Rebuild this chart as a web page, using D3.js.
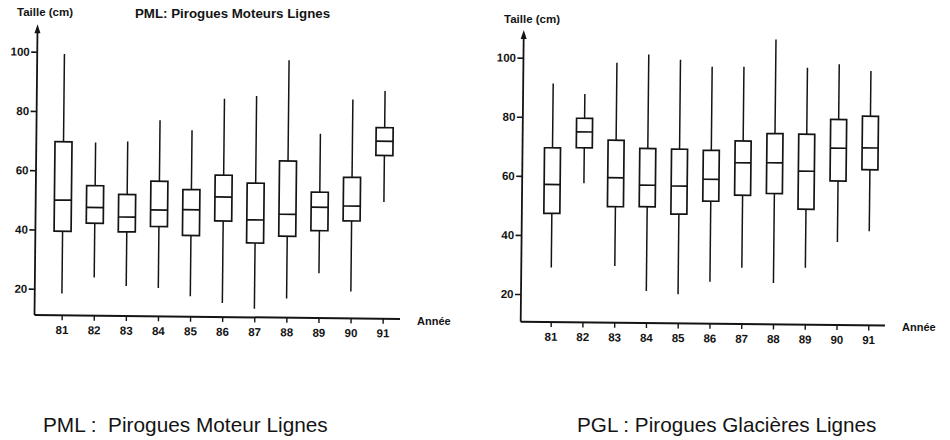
<!DOCTYPE html>
<html>
<head>
<meta charset="utf-8">
<script src="https://cdn.jsdelivr.net/npm/d3@7/dist/d3.min.js"></script>
<style>
  body { margin: 0; background: #fff; }
  svg { display: block; font-family: "Liberation Sans", Arial, Helvetica, sans-serif; }
</style>
</head>
<body>
<svg id="chart" width="950" height="440"></svg>
<script>
// Years on the x axis (19xx)
const years = [81, 82, 83, 84, 85, 86, 87, 88, 89, 90, 91];
const yTicks = [20, 40, 60, 80, 100];

// PML : Pirogues Moteur Lignes (taille en cm)
const pmlMin = [18.5, 24.0, 21.2, 20.7, 18.0, 15.8, 14.0, 17.6, 26.2, 20.2, 50.5];
const pmlQ1  = [39.5, 42.3, 39.5, 41.4, 38.5, 43.5, 36.2, 38.6, 40.6, 44.0, 66.2];
const pmlMed = [50.0, 47.6, 44.5, 47.0, 47.2, 51.6, 44.0, 46.0, 48.5, 49.0, 71.0];
const pmlQ3  = [69.7, 55.0, 52.1, 56.7, 54.0, 59.0, 56.4, 64.0, 53.6, 58.7, 75.6];
const pmlMax = [99.3, 69.6, 70.0, 77.3, 74.0, 84.8, 85.8, 98.0, 73.3, 85.0, 88.0];

// PGL : Pirogues Glacieres Lignes (taille en cm)
const pglMin = [29.1, 57.7, 29.8, 21.5, 20.5, 24.8, 29.7, 24.6, 29.9, 38.7, 42.5];
const pglQ1  = [47.4, 69.7, 49.9, 50.0, 47.6, 52.1, 54.2, 54.9, 49.7, 59.4, 63.3];
const pglMed = [57.2, 75.1, 59.7, 57.3, 57.1, 59.5, 65.2, 65.3, 62.6, 70.5, 70.7];
const pglQ3  = [69.6, 79.7, 72.4, 69.7, 69.6, 69.3, 72.6, 75.2, 75.1, 80.2, 81.4];
const pglMax = [91.4, 87.9, 98.6, 101.5, 99.9, 97.6, 97.7, 107.1, 97.6, 98.9, 96.7];

const ink = "#141414";
const svg = d3.select("#chart");

function toRows(mn, q1, md, q3, mx) {
  return years.map((yr, i) => ({ yr, min: mn[i], q1: q1[i], med: md[i], q3: q3[i], max: mx[i] }));
}

function drawPanel(p) {
  const x = d3.scaleLinear().domain([81, 91]).range(p.xRange);
  const y = d3.scaleLinear().domain([20, 100]).range(p.yRange);
  const floorY = y(p.floor);

  // the scanned page is slightly tilted
  const g = svg.append("g")
    .attr("transform", `rotate(${p.tilt},${p.axisX},${floorY})`);

  // y axis
  const yAxisG = g.append("g")
    .attr("transform", `translate(${p.axisX},0)`)
    .call(d3.axisLeft(y).tickValues(yTicks).tickSize(6).tickPadding(1.5));
  yAxisG.select(".domain").remove();
  yAxisG.selectAll(".tick line").attr("stroke", ink).attr("stroke-width", 1.6);
  yAxisG.selectAll(".tick text")
    .attr("fill", ink).attr("font-size", 11.5).attr("font-weight", "bold")
    .attr("font-family", "Liberation Sans, Arial, sans-serif");

  g.append("line")
    .attr("x1", p.axisX).attr("x2", p.axisX)
    .attr("y1", y(p.top) + 6).attr("y2", floorY)
    .attr("stroke", ink).attr("stroke-width", 1.8);

  // arrow head
  const tipY = y(p.top);
  g.append("path")
    .attr("d", `M${p.axisX},${tipY} L${p.axisX - 3},${tipY + 9} L${p.axisX + 3},${tipY + 9} Z`)
    .attr("fill", ink);

  // x axis
  const xAxisG = g.append("g")
    .attr("transform", `translate(0,${floorY})`)
    .call(d3.axisBottom(x).tickValues(years).tickSize(5).tickPadding(5.5).tickFormat(d => d));
  xAxisG.select(".domain").remove();
  xAxisG.selectAll(".tick line").attr("stroke", ink).attr("stroke-width", 1.4);
  xAxisG.selectAll(".tick text")
    .attr("fill", ink).attr("font-size", 11.5).attr("font-weight", "bold")
    .attr("font-family", "Liberation Sans, Arial, sans-serif");

  g.append("line")
    .attr("x1", p.axisX).attr("x2", p.axisEnd)
    .attr("y1", floorY).attr("y2", floorY)
    .attr("stroke", ink).attr("stroke-width", 2);

  // boxes
  const rows = toRows(...p.data);
  const box = g.append("g").selectAll("g").data(rows).join("g");

  box.append("line")
    .attr("x1", d => x(d.yr)).attr("x2", d => x(d.yr))
    .attr("y1", d => y(d.max)).attr("y2", d => y(d.q3))
    .attr("stroke", ink).attr("stroke-width", 1.5);
  box.append("line")
    .attr("x1", d => x(d.yr)).attr("x2", d => x(d.yr))
    .attr("y1", d => y(d.q1)).attr("y2", d => y(d.min))
    .attr("stroke", ink).attr("stroke-width", 1.5);
  box.append("rect")
    .attr("x", d => x(d.yr) - p.boxW / 2)
    .attr("width", p.boxW)
    .attr("y", d => y(d.q3))
    .attr("height", d => y(d.q1) - y(d.q3))
    .attr("fill", "#fff")
    .attr("stroke", ink).attr("stroke-width", 1.7);
  box.append("line")
    .attr("x1", d => x(d.yr) - p.boxW / 2).attr("x2", d => x(d.yr) + p.boxW / 2)
    .attr("y1", d => y(d.med)).attr("y2", d => y(d.med))
    .attr("stroke", ink).attr("stroke-width", 1.7);

  // labels
  svg.append("text")
    .attr("x", p.unitX).attr("y", p.unitY)
    .attr("font-size", 11.5).attr("font-weight", "bold").attr("fill", ink)
    .text("Taille (cm)");
  svg.append("text")
    .attr("x", p.anneeX).attr("y", p.anneeY)
    .attr("font-size", 11).attr("font-weight", "bold").attr("fill", ink)
    .text("Année");
}

drawPanel({
  data: [pmlMin, pmlQ1, pmlMed, pmlQ3, pmlMax],
  xRange: [61.7, 382.7], yRange: [288.7, 51.7],
  axisX: 34.5, axisEnd: 400, floor: 11.1, top: 109.3,
  tilt: 0.6, boxW: 17,
  unitX: 17, unitY: 16, anneeX: 417, anneeY: 325
});

drawPanel({
  data: [pglMin, pglQ1, pglMed, pglQ3, pglMax],
  xRange: [550.7, 868.3], yRange: [294, 57.7],
  axisX: 520.7, axisEnd: 885, floor: 10.6, top: 109.4,
  tilt: 0.6, boxW: 16,
  unitX: 504, unitY: 22.5, anneeX: 902, anneeY: 330.5
});

// panel title (left chart only)
svg.append("text")
  .attr("x", 135).attr("y", 18)
  .attr("font-size", 13.3).attr("font-weight", "bold").attr("fill", ink)
  .text("PML: Pirogues Moteurs Lignes");

// captions under the charts
svg.append("text")
  .attr("x", 43).attr("y", 432)
  .attr("font-size", 20.8).attr("fill", ink)
  .style("white-space", "pre")
  .text("PML :  Pirogues Moteur Lignes");
svg.append("text")
  .attr("x", 577).attr("y", 432)
  .attr("font-size", 20.7).attr("fill", ink)
  .text("PGL : Pirogues Glacières Lignes");
</script>
</body>
</html>
